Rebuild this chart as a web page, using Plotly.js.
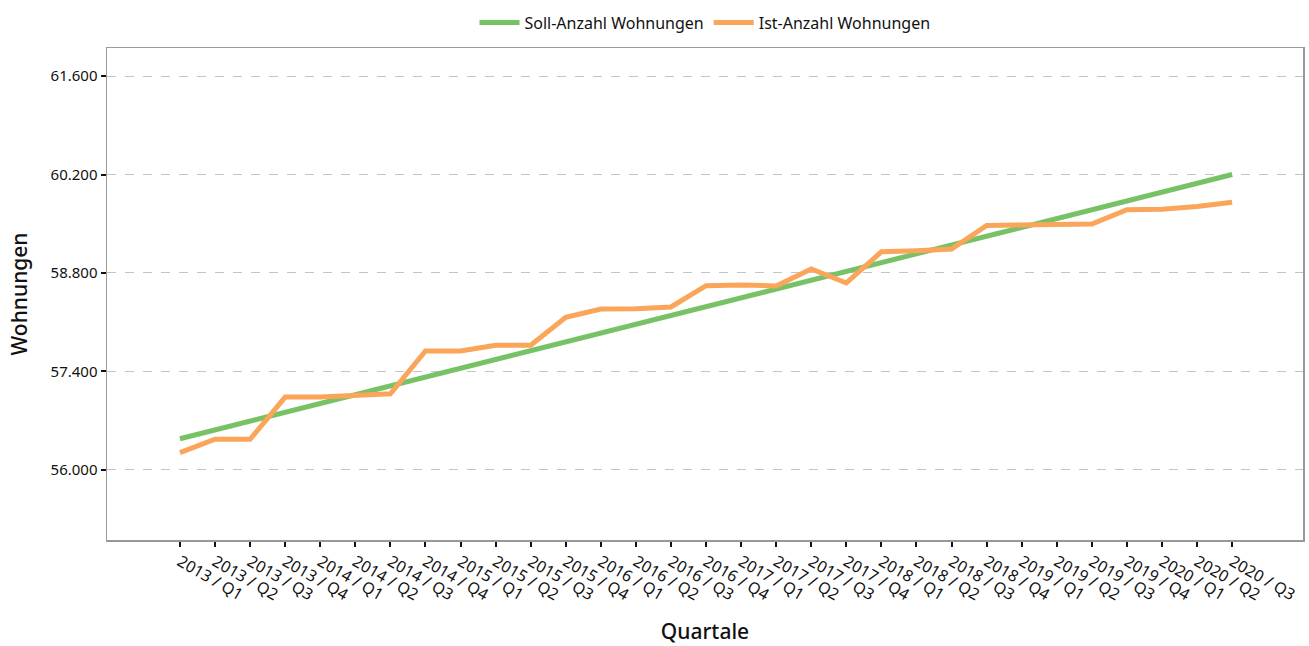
<!DOCTYPE html>
<html>
<head>
<meta charset="utf-8">
<script src="https://cdn.plot.ly/plotly-3.0.1.min.js"></script>
<style>html,body{margin:0;padding:0;background:#fff;}#chart{width:1309px;height:646px;}</style>
</head>
<body>
<div id="chart"></div>
<script>
const quarters = [
  "2013 / Q1","2013 / Q2","2013 / Q3","2013 / Q4",
  "2014 / Q1","2014 / Q2","2014 / Q3","2014 / Q4",
  "2015 / Q1","2015 / Q2","2015 / Q3","2015 / Q4",
  "2016 / Q1","2016 / Q2","2016 / Q3","2016 / Q4",
  "2017 / Q1","2017 / Q2","2017 / Q3","2017 / Q4",
  "2018 / Q1","2018 / Q2","2018 / Q3","2018 / Q4",
  "2019 / Q1","2019 / Q2","2019 / Q3","2019 / Q4",
  "2020 / Q1","2020 / Q2","2020 / Q3"
];
const sollWohnungen = [
  56440, 56565, 56690, 56816, 56941, 57066, 57192, 57317,
  57442, 57568, 57693, 57818, 57944, 58069, 58194, 58320,
  58445, 58570, 58696, 58821, 58946, 59072, 59197, 59322,
  59448, 59573, 59698, 59824, 59949, 60074, 60200
];
const istWohnungen = [
  56243, 56433, 56433, 57033, 57033, 57065, 57080, 57690,
  57690, 57771, 57771, 58167, 58286, 58290, 58315, 58619,
  58629, 58614, 58857, 58657, 59100, 59115, 59140, 59475,
  59480, 59480, 59495, 59700, 59705, 59746, 59805
];
const yTickVals = [56000, 57400, 58800, 60200, 61600];

const FONT = "Noto Sans, sans-serif";
const xIdx = quarters.map((q, i) => i);

const traces = [
  {
    x: xIdx, y: sollWohnungen, name: "Soll-Anzahl Wohnungen",
    type: "scatter", mode: "lines",
    line: {color: "#78c266", width: 5}
  },
  {
    x: xIdx, y: istWohnungen, name: "Ist-Anzahl Wohnungen",
    type: "scatter", mode: "lines",
    line: {color: "#fba55a", width: 5}
  }
];

const layout = {
  width: 1309, height: 646,
  margin: {l: 107, r: 6, t: 48, b: 106},
  paper_bgcolor: "#fff", plot_bgcolor: "#fff",
  separators: ",.",
  font: {family: FONT, size: 15, color: "#111"},
  showlegend: true,
  legend: {
    orientation: "h", x: 0.5, xanchor: "center", y: 1.086, yanchor: "top",
    font: {family: FONT, size: 16, color: "#111"},
    traceorder: "normal", itemwidth: 40
  },
  xaxis: {
    range: [-2.08, 32.02],
    tickmode: "array", tickvals: xIdx, ticktext: quarters,
    tickangle: 30,
    ticks: "outside", ticklen: 5, tickwidth: 2, tickcolor: "#111",
    showline: true, linecolor: "#999", linewidth: 1.5, mirror: true,
    showgrid: false, zeroline: false,
    tickfont: {family: FONT, size: 16, color: "#111"},
    title: {text: "Quartale", font: {family: FONT, size: 21, color: "#111", weight: 500}, standoff: 20}
  },
  yaxis: {
    range: [55000, 62000],
    tickmode: "array", tickvals: yTickVals,
    tickformat: ",.0f",
    ticks: "outside", ticklen: 5, tickwidth: 2, tickcolor: "#111",
    showline: true, linecolor: "#999", linewidth: 1.5, mirror: true,
    showgrid: true, gridcolor: "#c4c4c4", griddash: "dash", gridwidth: 1,
    zeroline: false,
    tickfont: {family: FONT, size: 15, color: "#111"},
    title: {text: "Wohnungen", font: {family: FONT, size: 21, color: "#111", weight: 500}, standoff: 17}
  }
};

Plotly.newPlot("chart", traces, layout, {displayModeBar: false, staticPlot: true});
</script>
</body>
</html>
